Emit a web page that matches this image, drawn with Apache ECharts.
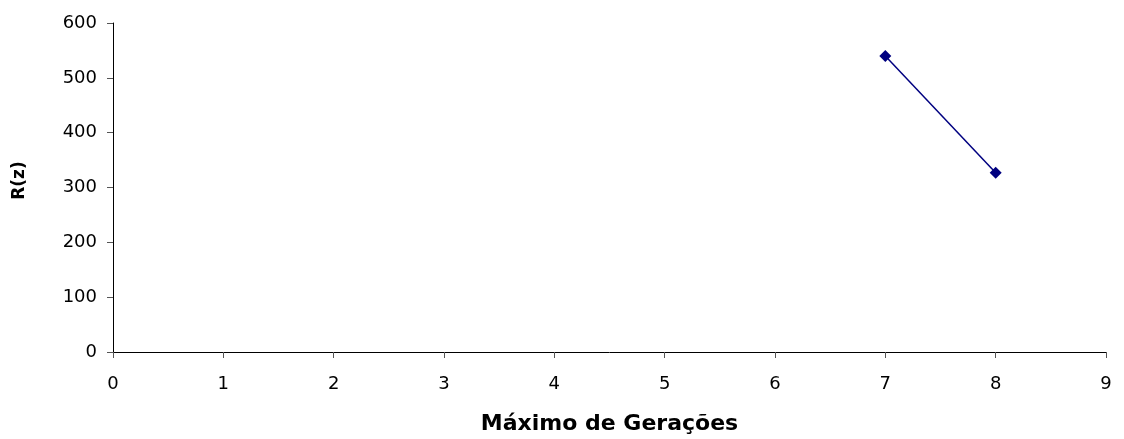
<!DOCTYPE html>
<html>
<head>
<meta charset="utf-8">
<script src="https://cdn.jsdelivr.net/npm/echarts@6/dist/echarts.min.js"></script>
<style>
    html, body { margin: 0; padding: 0; background: #fff; }
    #chart { width: 1124px; height: 439px; }
</style>
</head>
<body>
<div id="chart"></div>
<script>
// valores
var geracoes = [7, 8];
var rz = [540, 327];
var xTicks = [0, 1, 2, 3, 4, 5, 6, 7, 8, 9];
var yTicks = [0, 100, 200, 300, 400, 500, 600];

var chartDom = document.getElementById('chart');
var myChart = echarts.init(chartDom);

var points = geracoes.map(function (g, i) { return [g, rz[i]]; });

var font = 'DejaVu Sans';

const option = {
    animation: false,
    grid: {
        left: 113,
        right: 18,
        top: 23,
        bottom: 87,
        outerBoundsMode: 'none',
        containLabel: false
    },
    xAxis: {
        type: 'value',
        min: xTicks[0],
        max: xTicks[xTicks.length - 1],
        interval: 1,
        name: 'Máximo de Gerações',
        nameLocation: 'middle',
        nameGap: 61,
        nameTextStyle: { color: '#000', fontFamily: font, fontWeight: 'bold', fontSize: 22 },
        axisLine: { lineStyle: { color: '#000', width: 1 } },
        axisTick: { show: true, length: 6, lineStyle: { color: '#555' } },
        axisLabel: { color: '#000', fontFamily: font, fontSize: 18, margin: 23 },
        splitLine: { show: false }
    },
    yAxis: {
        type: 'value',
        min: yTicks[0],
        max: yTicks[yTicks.length - 1],
        interval: 100,
        name: 'R(z)',
        nameLocation: 'middle',
        nameGap: 85,
        nameRotate: 90,
        nameTextStyle: { color: '#000', fontFamily: font, fontWeight: 'bold', fontSize: 17, padding: [0, 0, 0, 14] },
        axisLine: { show: true, lineStyle: { color: '#000', width: 1 } },
        axisTick: { show: true, length: 6, lineStyle: { color: '#555' } },
        axisLabel: { color: '#000', fontFamily: font, fontSize: 18, margin: 16 },
        splitLine: { show: false }
    },
    series: [
        {
            type: 'line',
            data: points,
            symbol: 'diamond',
            symbolSize: 12,
            lineStyle: { color: '#000080', width: 1.5 },
            itemStyle: { color: '#000080' }
        }
    ]
};

option && myChart.setOption(option);
</script>
</body>
</html>
